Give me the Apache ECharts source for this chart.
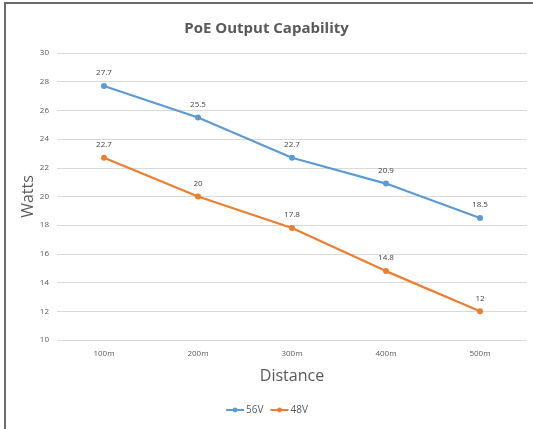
<!DOCTYPE html>
<html>
<head>
<meta charset="utf-8">
<script src="https://cdn.jsdelivr.net/npm/echarts@6/dist/echarts.min.js"></script>
<style>
  html, body { margin: 0; padding: 0; background: #fff; overflow: hidden; width: 533px; height: 429px; }
  #frame { position: absolute; left: 4px; top: 2px; width: 527px; height: 427px;
           border-left: 2px solid #6b6b6b; border-top: 2px solid #6b6b6b; }
  #chart { position: absolute; left: 0; top: 0; width: 533px; height: 429px; }
</style>
</head>
<body>
<div id="frame"></div>
<div id="chart"></div>
<script>
const categories = ["100m", "200m", "300m", "400m", "500m"];
const watts56 = [27.7, 25.5, 22.7, 20.9, 18.5];
const watts48 = [22.7, 20, 17.8, 14.8, 12];

const myChart = echarts.init(document.getElementById("chart"));
const labelStyle = { show: true, position: "top", distance: 6, fontSize: 8, color: "#404040", fontFamily: "Open Sans" };

myChart.setOption({
  animation: false,
  title: {
    text: "PoE Output Capability",
    left: "center",
    top: 16,
    textStyle: { fontSize: 15, fontWeight: "bold", color: "#595959", fontFamily: "Open Sans" }
  },
  legend: {
    bottom: 9,
    left: "center",
    itemWidth: 18,
    itemHeight: 6,
    itemGap: 6,
    textStyle: { fontSize: 10, color: "#595959", fontFamily: "Open Sans", padding: [0, 0, 0, -3] },
    data: ["56V", "48V"]
  },
  grid: { left: 57, right: 6, top: 53, bottom: 89 },
  xAxis: {
    type: "category",
    data: categories,
    name: "Distance",
    nameLocation: "middle",
    nameGap: 28,
    nameMoveOverlap: false,
    nameTextStyle: { fontSize: 16, color: "#595959", fontFamily: "Open Sans" },
    axisLine: { show: false },
    axisTick: { show: false },
    axisLabel: { fontSize: 8, color: "#595959", margin: 10, fontFamily: "Open Sans" }
  },
  yAxis: {
    type: "value",
    min: 10,
    max: 30,
    interval: 2,
    name: "Watts",
    nameLocation: "middle",
    nameGap: 21,
    nameMoveOverlap: false,
    nameTextStyle: { fontSize: 16, color: "#595959", fontFamily: "Open Sans" },
    axisLabel: { fontSize: 8, color: "#595959", margin: 8, fontFamily: "Open Sans" },
    splitLine: { lineStyle: { color: "#d9d9d9", width: 1 } }
  },
  series: [
    {
      name: "56V",
      type: "line",
      data: watts56,
      symbol: "circle",
      symbolSize: 6,
      lineStyle: { width: 2.2, color: "#5B9BD5" },
      itemStyle: { color: "#5B9BD5" },
      label: labelStyle
    },
    {
      name: "48V",
      type: "line",
      data: watts48,
      symbol: "circle",
      symbolSize: 6,
      lineStyle: { width: 2.2, color: "#ED7D31" },
      itemStyle: { color: "#ED7D31" },
      label: labelStyle
    }
  ]
});
</script>
</body>
</html>
